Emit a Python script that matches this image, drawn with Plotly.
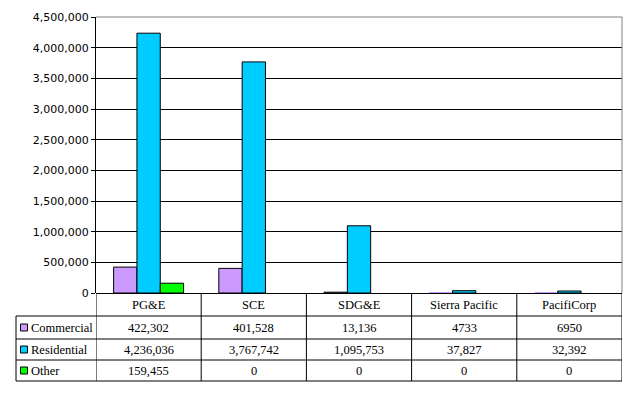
import plotly.graph_objects as go

companies = ["PG&E", "SCE", "SDG&E", "Sierra Pacific", "PacifiCorp"]
commercial = [422302, 401528, 13136, 4733, 6950]
residential = [4236036, 3767742, 1095753, 37827, 32392]
other = [159455, 0, 0, 0, 0]
commercial_labels = ["422,302", "401,528", "13,136", "4733", "6950"]
residential_labels = ["4,236,036", "3,767,742", "1,095,753", "37,827", "32,392"]
other_labels = ["159,455", "0", "0", "0", "0"]
series_names = ["Commercial", "Residential", "Other"]
colors = ["#CC99FF", "#00CCFF", "#00FF00"]
tick_vals = [0, 500000, 1000000, 1500000, 2000000, 2500000, 3000000, 3500000, 4000000, 4500000]

# page body has an 8px margin, so the figure is drawn at (8, 8)
OFF = 8
PW, PH = 638, 397
X0, X1, Y0, Y1 = 96, 622, 17, 293  # plot area in page pixels
W, H = PW - OFF, PH - OFF
L, R, T, B = X0 - OFF, PW - X1, Y0 - OFF, PH - Y1
pw, ph = X1 - X0, Y1 - Y0

def py(p):  # page pixel y -> paper y
    return (Y1 - p) / ph

def px(p):
    return (p - X0) / pw

fig = go.Figure()
for name, vals, col in zip(series_names, [commercial, residential, other], colors):
    # bars thinner than half a pixel are not outlined (as in the original rendering)
    widths = [1 if v > 0.5 * tick_vals[-1] / ph else 0 for v in vals]
    fig.add_trace(go.Bar(x=companies, y=vals, name=name,
                         marker=dict(color=col, line=dict(color="black", width=widths))))

shapes = []
shapes.append(dict(type="line", xref="paper", yref="paper", x0=0, x1=1, y0=1, y1=1, line=dict(color="#808080", width=1)))
shapes.append(dict(type="line", xref="paper", yref="paper", x0=1, x1=1, y0=0, y1=1, line=dict(color="#808080", width=1)))

row_lines = [316, 339, 360, 381]
for yl in row_lines:
    shapes.append(dict(type="line", xref="paper", yref="paper", x0=px(16), x1=1, y0=py(yl), y1=py(yl), line=dict(color="black", width=1)))
shapes.append(dict(type="line", xref="paper", yref="paper", x0=px(16), x1=px(16), y0=py(316), y1=py(381), line=dict(color="black", width=1)))
for i in range(len(companies) + 1):
    shapes.append(dict(type="line", xref="x", yref="paper", x0=i - 0.5, x1=i - 0.5, y0=0, y1=py(381), line=dict(color="black", width=1)))

annotations = []
tfont = dict(family="Liberation Serif", size=12.5, color="black")
for c in companies:
    annotations.append(dict(x=c, xref="x", y=py(304.5), yref="paper", text=c, showarrow=False, font=tfont, xanchor="center", yanchor="middle"))
row_centers = [327.5, 349.5, 370.5]
for name, labels, col, yc in zip(series_names, [commercial_labels, residential_labels, other_labels], colors, row_centers):
    for c, t in zip(companies, labels):
        annotations.append(dict(x=c, xref="x", y=py(yc), yref="paper", text=t, showarrow=False, font=tfont, xanchor="center", yanchor="middle"))
    annotations.append(dict(x=px(29), xref="paper", y=py(yc), yref="paper", text=name, showarrow=False, font=tfont, xanchor="left", yanchor="middle"))
    shapes.append(dict(type="rect", xref="paper", yref="paper", x0=px(20.5), x1=px(27.5), y0=py(yc - 3.5), y1=py(yc + 3.5), fillcolor=col, line=dict(color="black", width=1)))

fig.update_layout(
    template="none",
    width=W, height=H,
    margin=dict(l=L, r=R, t=T, b=B, autoexpand=False, pad=0),
    paper_bgcolor="white", plot_bgcolor="white",
    barmode="group", bargap=0.335, bargroupgap=0,
    showlegend=False,
    shapes=shapes, annotations=annotations,
    xaxis=dict(showticklabels=False, showgrid=False, ticks="", showline=False, zeroline=False, range=[-0.5, 4.5], automargin=False),
    yaxis=dict(range=[0, 4500000], tickvals=tick_vals, tickformat=",d", showgrid=True, gridcolor="black", gridwidth=1,
               zeroline=True, zerolinecolor="black", zerolinewidth=1, automargin=False,
               showline=True, linecolor="black", linewidth=1, ticks="outside", ticklen=4, tickcolor="black",
               tickfont=dict(family="DejaVu Sans", size=11, color="black")),
)

fig.write_html("out.html")
